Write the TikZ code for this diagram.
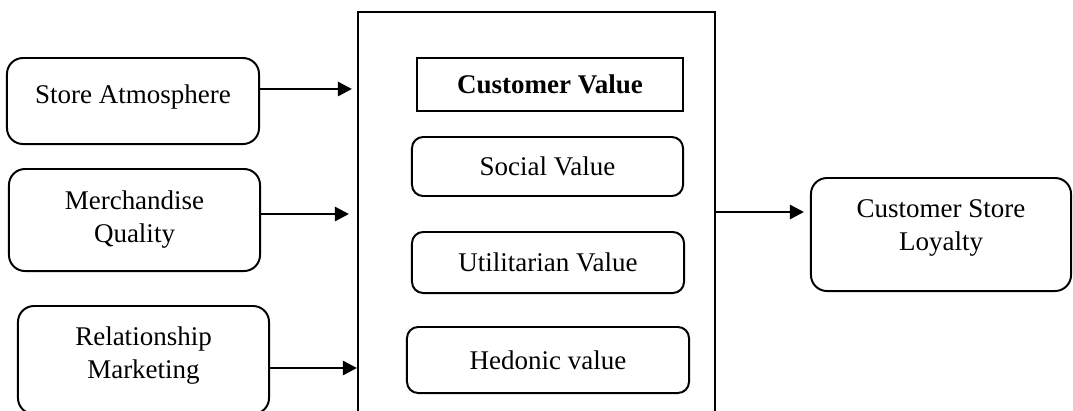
\documentclass[tikz,border=0pt]{standalone}
\usepackage{fontspec}
\setmainfont{Liberation Serif}
\usetikzlibrary{arrows.meta}

\begin{document}
\begin{tikzpicture}[x=0.025cm, y=-0.025cm,
    roundnode/.style={rectangle, rounded corners=0.4cm, draw=black, line width=1.4pt, align=center, inner sep=2pt, font=\fontsize{19.2}{23.5}\selectfont},
    valuenode/.style={roundnode, rounded corners=0.28cm},
    titlenode/.style={rectangle, draw=black, line width=1pt, inner sep=2pt, font=\fontsize{19.2}{23.5}\selectfont\bfseries},
    framenode/.style={rectangle, draw=black, line width=1.4pt},
    arrowline/.style={-{Triangle[length=10pt,width=10pt]}, line width=1.8pt}]

        \clip (0,0) rectangle (1073,410);

        % middle frame with the value boxes
        \node[framenode, minimum width=8.925cm, minimum height=10.2cm] (frame) at (536.5,216) {};
        \node[titlenode, minimum width=6.65cm, minimum height=1.325cm] (custval) at (550,84.5) {Customer Value};
        \node[valuenode, minimum width=6.775cm, minimum height=1.475cm] (social) at (547.5,166.5) {Social Value};
        \node[valuenode, minimum width=6.8cm, minimum height=1.525cm] (util) at (548,262.5) {Utilitarian Value};
        \node[valuenode, minimum width=7.05cm, minimum height=1.65cm] (hedonic) at (548,360) {Hedonic value};

        % left side
        \node[roundnode, minimum width=6.3cm, minimum height=2.15cm, text depth=10pt] (store) at (133,101) {Store Atmosphere};
        \node[roundnode, minimum width=6.275cm, minimum height=2.55cm] (merch) at (134.5,220) {Merchandise\\Quality};
        \node[roundnode, minimum width=6.275cm, minimum height=2.7cm, text depth=11pt] (rel) at (143.5,360) {Relationship\\Marketing};

        % right side
        \node[roundnode, minimum width=6.5cm, minimum height=2.825cm, text depth=13pt] (loyal) at (941,234.5) {Customer Store\\Loyalty};

        \coordinate (s1) at ([yshift=0.3cm]store.east);
        \coordinate (m1) at ([yshift=0.15cm]merch.east);
        \coordinate (r1) at ([yshift=-0.2cm]rel.east);
        \coordinate (f1) at ([yshift=0.1cm]frame.east);

        \draw[arrowline, shorten >=0.125cm] (s1) -- (s1 -| frame.west);
        \draw[arrowline, shorten >=0.2cm] (m1) -- (m1 -| frame.west);
        \draw[arrowline] (r1) -- (r1 -| frame.west);
        \draw[arrowline, shorten >=0.15cm] (f1) -- (f1 -| loyal.west);

\end{tikzpicture}
\end{document}
